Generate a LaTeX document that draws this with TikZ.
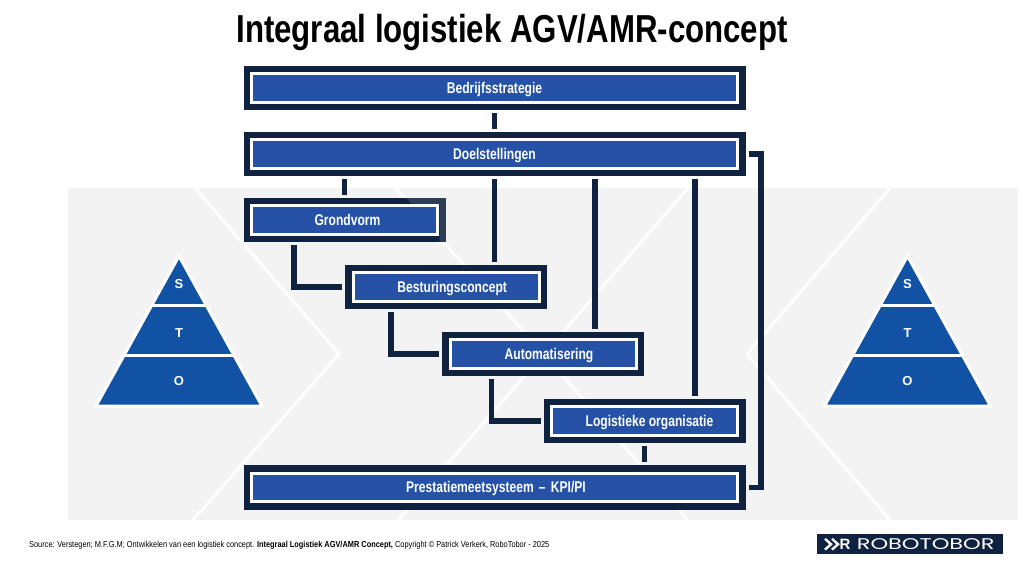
\documentclass[tikz,border=0pt]{standalone}
\usepackage{fontspec}
\setmainfont{Liberation Sans}
\newfontfamily\narrowfont[FakeStretch=0.78]{Liberation Sans}
\newfontfamily\titlefont[FakeStretch=0.80]{Liberation Sans}
\newfontfamily\sourcefont[FakeStretch=0.85]{Liberation Sans}
\newfontfamily\logofont[FakeStretch=1.45]{Poppins}
\usepackage{tikz}
\usetikzlibrary{
        positioning
    }
\definecolor{framenavy}{HTML}{0F2240}
\definecolor{boxblue}{HTML}{2552A6}
\definecolor{pyramidblue}{HTML}{1152A5}
\definecolor{sheetgrey}{HTML}{F3F3F4}
\tikzset{x=1pt,y=-1pt}
\tikzset{frame box/.style={draw=white,line width=3pt,fill=boxblue,text=white,
        preaction={draw=framenavy,line width=16pt},outer sep=11pt,
        minimum width=186pt,minimum height=28.5pt,inner sep=0pt,
        text height=13pt,text depth=2.4pt,
        font=\narrowfont\bfseries\fontsize{15.5}{17}\selectfont}}
\tikzset{wide box/.style={frame box,minimum width=486pt}}
\tikzset{link/.style={draw=framenavy,line width=5.5pt}}
\tikzset{chevron/.style={draw=white,line width=3pt}}
\tikzset{layer/.style={text=white,font=\bfseries\fontsize{13}{15}\selectfont}}

\begin{document}
\begin{tikzpicture}
                \useasboundingbox (0,0) rectangle (1024,576);
                \fill[sheetgrey] (68,188) rectangle (1018,520);
                \draw[chevron] (195,188) -- (339,354) -- (193,520);
                \draw[chevron] (395,188) -- (544,354) -- (398,520);
                \draw[chevron] (688,188) -- (544,354) -- (688,520);
                \draw[chevron] (890,188) -- (747,354) -- (890,520);
                \foreach \apex/\side in {179/l,907.5/r} {
                    \fill[pyramidblue,draw=white,line width=3pt,miter limit=10]
                        (\apex,256) -- (\apex+83,406) -- (\apex-83,406) -- cycle;
                    \draw[white,line width=3pt] (\apex-28,305.5) -- (\apex+28,305.5);
                    \draw[white,line width=3pt] (\apex-55,355.5) -- (\apex+55,355.5);
                    \node[layer] (s\side) at (\apex,284) {S};
                    \node[layer] (t\side) at (\apex,333) {T};
                    \node[layer] (o\side) at (\apex,381) {O};
                }
                \node[text=black,font=\titlefont\bfseries\fontsize{39}{42}\selectfont] (title) at (512,32.5) {Integraal logistiek AGV/AMR-concept};
                \node[wide box] (strategy) at (494.5,87.75) {Bedrijfsstrategie};
                \node[wide box] (goals) [below=15.7pt of strategy] {Doelstellingen};
                \node[frame box] (layout) [below right=15.7pt and 0pt of goals.south west] {\hspace*{6pt}Grondvorm};
                \node[frame box] (control) [below right=16.3pt and 101.7pt of layout.south west] {\hspace*{12pt}Besturingsconcept};
                \node[frame box] (automation) [below right=16.4pt and 96.8pt of control.south west] {\hspace*{12pt}Automatisering};
                \node[frame box] (organisation) [below right=16.4pt and 101.5pt of automation.south west] {\hspace*{10pt}Logistieke organisatie};
                \node[wide box] (kpi) [below left=16pt and 0pt of organisation.south east] {\hspace*{3pt}Prestatiemeetsysteem\,\,–\,\,KPI/PI};
                \fill[white,opacity=.13] (406,197.7) -- (446,197.7) -- (446,242.7) -- (439.5,242.7) -- (439.5,204.2) -- (412,204.2) -- cycle;
                \coordinate[right=100.5pt of goals.south] (goalsb);
                \coordinate[right=200.5pt of goals.south] (goalsc);
                \coordinate[right=53.3pt of layout.south west] (layouta);
                \coordinate[right=48.6pt of control.south west] (controla);
                \coordinate[right=52.7pt of automation.south west] (automationa);
                \coordinate[right=12.5pt of goals.east] (bracket);
                \path[link]
                    (strategy) edge (goals)
                    (goals.south -| layout.north) edge (layout.north)
                    (goals.south) edge (goals.south |- control.north)
                    (goalsb) edge (goalsb |- automation.north)
                    (goalsc) edge (goalsc |- organisation.north)
                    (organisation.south) edge (organisation.south |- kpi.north)
                    ;
                \draw[link] (layouta) |- (control.west);
                \draw[link] (controla) |- (automation.west);
                \draw[link] (automationa) |- (organisation.west);
                \draw[link] (goals.east) -- (bracket) |- (kpi.east);
                \node[anchor=west,text=black,inner sep=0pt,font=\sourcefont\fontsize{8.7}{10}\selectfont] (source) at (29,545.5) {Source: Verstegen; M.F.G.M; Ontwikkelen van een logistiek concept. \textbf{Integraal Logistiek AGV/AMR Concept,} Copyright © Patrick Verkerk, RoboTobor - 2025};
                \node[fill=framenavy,text=white,minimum width=186pt,minimum height=19.7pt,inner sep=0pt,font=\logofont\fontsize{15.5}{17}\selectfont] (logo) at (909.7,544.2) {\hspace*{32pt}ROBOTOBOR};
                \draw[white,line width=2.4pt] (825,538.8) -- (831,544.2) -- (825,549.6);
                \draw[white,line width=2.4pt] (832,538.8) -- (838,544.2) -- (832,549.6);
                \node[text=white,inner sep=0pt,font=\bfseries\fontsize{15}{16}\selectfont] (logor) at (845,544.2) {R};
\end{tikzpicture}
\end{document}
